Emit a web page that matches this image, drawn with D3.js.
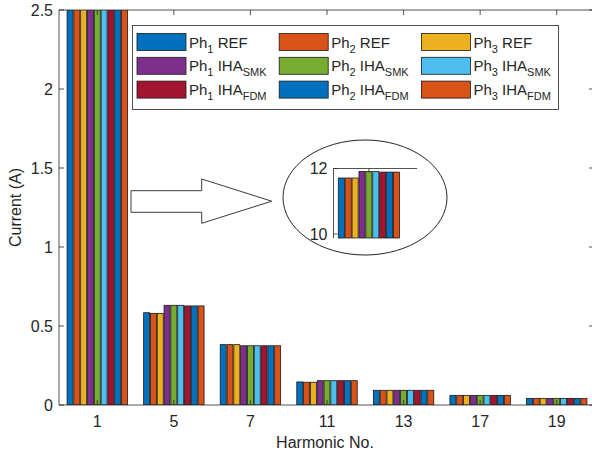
<!DOCTYPE html>
<html><head><meta charset="utf-8">
<script src="https://cdn.jsdelivr.net/npm/d3@7"></script>
<style>body{margin:0;background:#fff}svg{display:block}text{font-family:"Liberation Sans",Arial,sans-serif;fill:#262626}</style>
</head><body>
<svg id="c" width="592" height="457"></svg>
<script>
const harmonics = ["1","5","7","11","13","17","19"];
const phases = ["1","2","3","1","2","3","1","2","3"];
const methods = ["REF","REF","REF","IHA","IHA","IHA","IHA","IHA","IHA"];
const methodSubs = ["","","","SMK","SMK","SMK","FDM","FDM","FDM"];
const colors = ["#0072BD","#D95319","#EDB120","#7E2F8E","#77AC30","#4DBEEE","#A2142F","#0072BD","#D95319"];
const ph1REF = [11.71, 0.584, 0.382, 0.146, 0.093, 0.061, 0.042];
const ph2REF = [11.71, 0.580, 0.382, 0.144, 0.093, 0.061, 0.042];
const ph3REF = [11.71, 0.580, 0.382, 0.144, 0.093, 0.061, 0.042];
const ph1SMK = [11.91, 0.631, 0.375, 0.154, 0.093, 0.061, 0.042];
const ph2SMK = [11.91, 0.631, 0.375, 0.154, 0.093, 0.061, 0.042];
const ph3SMK = [11.91, 0.631, 0.375, 0.154, 0.093, 0.061, 0.042];
const ph1FDM = [11.89, 0.627, 0.375, 0.154, 0.093, 0.061, 0.042];
const ph2FDM = [11.89, 0.627, 0.375, 0.154, 0.093, 0.061, 0.042];
const ph3FDM = [11.89, 0.627, 0.375, 0.154, 0.093, 0.061, 0.042];
const series = [ph1REF, ph2REF, ph3REF, ph1SMK, ph2SMK, ph3SMK, ph1FDM, ph2FDM, ph3FDM];
const yTicks = [0, 0.5, 1, 1.5, 2, 2.5];
const insetTicks = [10, 12];

const svg = d3.select("#c");
const L = 59, R = 595, T = 10, B = 405;
const y = d3.scaleLinear().domain([0, 2.5]).range([B, T]);
const x = d3.scaleBand().domain(harmonics).range([L, R]);
const cx = h => x(h) + x.bandwidth() / 2;
const gw = x.step() * 0.8;
const xs2 = d3.scaleBand().domain(d3.range(9)).range([-gw/2, gw/2]).paddingInner(0.12).paddingOuter(0.06);

svg.append("defs").append("clipPath").attr("id","pc").append("rect")
  .attr("x", L).attr("y", T).attr("width", R - L).attr("height", B - T);

const bars = svg.append("g").attr("clip-path","url(#pc)");
series.forEach((vals, si) => {
  bars.selectAll(null).data(vals.map((v,i)=>({h:harmonics[i], v}))).enter().append("rect")
    .attr("x", d => cx(d.h) + xs2(si))
    .attr("width", xs2.bandwidth())
    .attr("y", d => y(Math.min(d.v, 3)))
    .attr("height", d => y(0) - y(Math.min(d.v, 3)))
    .attr("fill", colors[si]).attr("stroke","#1a1a1a").attr("stroke-width",0.8);
});

// axes
const ax = svg.append("g").attr("stroke","#262626").attr("stroke-width",0.8).attr("fill","none");
ax.append("line").attr("x1",L).attr("x2",R).attr("y1",B).attr("y2",B);
ax.append("line").attr("x1",L).attr("x2",R).attr("y1",T).attr("y2",T);
ax.append("line").attr("x1",L).attr("x2",L).attr("y1",T).attr("y2",B);
ax.append("line").attr("x1",R-1).attr("x2",R-1).attr("y1",T).attr("y2",B);
yTicks.forEach(t => {
  ax.append("line").attr("x1",L).attr("x2",L+5).attr("y1",y(t)).attr("y2",y(t));
  ax.append("line").attr("x1",R-6).attr("x2",R-1).attr("y1",y(t)).attr("y2",y(t));
  svg.append("text").attr("x",L-6).attr("y",y(t)).attr("dy","0.35em").attr("text-anchor","end")
    .attr("font-size",16).text(t);
});
harmonics.forEach(h => {
  ax.append("line").attr("x1",cx(h)).attr("x2",cx(h)).attr("y1",B).attr("y2",B-5);
  ax.append("line").attr("x1",cx(h)).attr("x2",cx(h)).attr("y1",T).attr("y2",T+5);
  svg.append("text").attr("x",cx(h)).attr("y",B+22).attr("text-anchor","middle")
    .attr("font-size",16).text(h);
});
svg.append("text").attr("x",(L+R)/2-2).attr("y",448).attr("text-anchor","middle").attr("font-size",16).text("Harmonic No.");
svg.append("text").attr("transform",`translate(21,${(T+B)/2}) rotate(-90)`).attr("text-anchor","middle")
  .attr("font-size",16).text("Current (A)");

// legend
const lg = svg.append("g");
lg.append("rect").attr("x",132.5).attr("y",25.5).attr("width",426).attr("height",84)
  .attr("fill","#fff").attr("stroke","#262626").attr("stroke-width",0.8);
series.forEach((s, i) => {
  const col = i % 3, row = Math.floor(i / 3);
  const sx = 137 + col * 142.2, sy = 33.5 + row * 23.8;
  lg.append("rect").attr("x",sx).attr("y",sy).attr("width",49).attr("height",17)
    .attr("fill",colors[i]).attr("stroke","#1a1a1a").attr("stroke-width",0.8);
  const t = lg.append("text").attr("x",sx+52).attr("y",sy+14).attr("font-size",15);
  t.append("tspan").text("Ph");
  t.append("tspan").attr("font-size",11).attr("dy",5).text(phases[i]);
  t.append("tspan").attr("dy",-5).text(" " + methods[i]);
  if (methodSubs[i]) t.append("tspan").attr("font-size",11).attr("dy",5).text(methodSubs[i]);
});

// arrow
const arrowPts = [[131,190.7],[201.7,190.7],[201.7,179],[271.7,201.2],[201.7,223.3],[201.7,212.3],[131,212.3]];
svg.append("path").attr("d", d3.line()(arrowPts) + "Z").attr("fill","#fff").attr("stroke","#262626").attr("stroke-width",0.9);

// inset ellipse
svg.append("ellipse").attr("cx",365).attr("cy",197.5).attr("rx",82).attr("ry",57.5)
  .attr("fill","#fff").attr("stroke","#262626").attr("stroke-width",1);
const iL = 333.5, iR = 417, iT = 168.5, iB = 238;
const iy = d3.scaleLinear().domain([10, 12]).range([234, iT]);
const ix = d3.scaleBand().domain(d3.range(9)).range([338.3, 399.5]).paddingInner(0.12);
const ig = svg.append("g");
series.forEach((vals, si) => {
  ig.append("rect").attr("x", ix(si)).attr("width", ix.bandwidth())
    .attr("y", iy(vals[0])).attr("height", iB - iy(vals[0]))
    .attr("fill", colors[si]).attr("stroke","#1a1a1a").attr("stroke-width",0.8);
});
const iax = svg.append("g").attr("stroke","#262626").attr("stroke-width",0.8);
iax.append("line").attr("x1",iL).attr("x2",iL).attr("y1",iT).attr("y2",iB);
iax.append("line").attr("x1",iL).attr("x2",iR).attr("y1",iT).attr("y2",iT);
iax.append("line").attr("x1",(338.3+399.5)/2).attr("x2",(338.3+399.5)/2).attr("y1",iT).attr("y2",iT+4);
insetTicks.forEach(t => {
  iax.append("line").attr("x1",iL).attr("x2",iL+4).attr("y1",iy(t)).attr("y2",iy(t));
  svg.append("text").attr("x",iL-6).attr("y",iy(t)).attr("dy","0.35em").attr("text-anchor","end")
    .attr("font-size",16).text(t);
});
</script>
</body></html>
